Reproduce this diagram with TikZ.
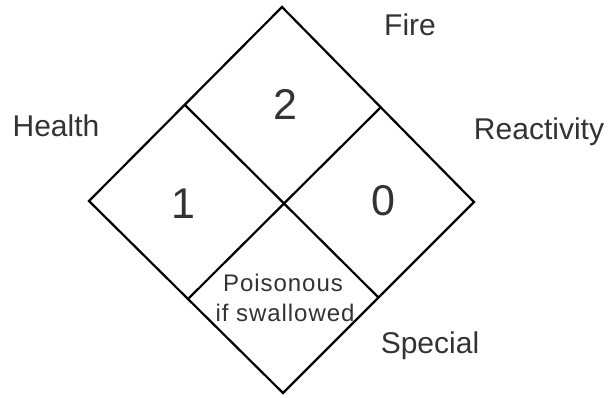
\documentclass[tikz,border=0pt]{standalone}
\usepackage{fontspec}
\setmainfont{Liberation Sans}
\newfontfamily\spacedfont[LetterSpace=4]{Liberation Sans}
\definecolor{txt}{RGB}{50,50,55}
\begin{document}
\begin{tikzpicture}[x=1pt,y=-1pt,
  edge/.style={draw=black,line width=2.2pt,line join=miter},
  lbl/.style={text=txt,font=\fontsize{30}{33}\selectfont,anchor=base,inner sep=0pt},
  num/.style={text=txt,font=\fontsize{43}{47}\selectfont,anchor=base,inner sep=0pt},
  small/.style={text=txt,font=\spacedfont\fontsize{24}{27}\selectfont,anchor=base,inner sep=0pt}]
\useasboundingbox (0,0) rectangle (608,397);
\coordinate (T) at (282,7);
\coordinate (L) at (89,201);
\coordinate (R) at (474,202);
\coordinate (B) at (283,393);
\coordinate (TL) at (185,105);
\coordinate (TR) at (380,108);
\coordinate (BL) at (189,298);
\coordinate (BR) at (378,297);
\draw[edge] (T) -- (R) -- (B) -- (L) -- cycle;
\draw[edge] (TL) -- (BR);
\draw[edge] (TR) -- (BL);
\node[lbl] (fire) at (410,35) {Fire};
\node[lbl] (health) at (56,136) {Health};
\node[lbl] (react) at (539,139) {Reactivity};
\node[lbl] (special) at (430,353) {Special};
\node[num] (n2) at (285,119) {2};
\node[num] (n1) at (183,218) {1};
\node[num] (n0) at (383,215) {0};
\node[small] (p1) at (283,291) {Poisonous};
\node[small] (p2) at (285,321) {if swallowed};
\end{tikzpicture}
\end{document}
